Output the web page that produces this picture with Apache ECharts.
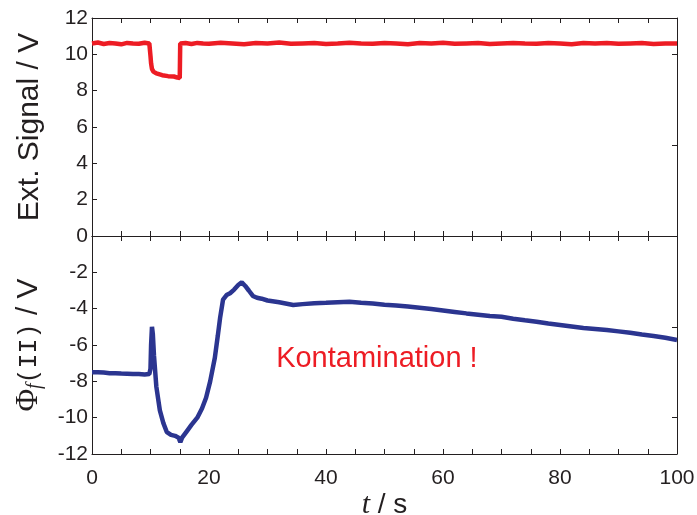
<!DOCTYPE html>
<html>
<head>
<meta charset="utf-8">
<script src="https://cdn.jsdelivr.net/npm/echarts@6/dist/echarts.min.js"></script>
<style>
html,body{margin:0;padding:0;background:#fff;}
#c{width:697px;height:515px;}
</style>
</head>
<body>
<div id="c"></div>
<script>
// ---- data ----
const xTicksLabeled = [0, 20, 40, 60, 80, 100];

// top panel: external signal (V) vs t (s)
const tSignal = [0,1,2,3,4,5,6,7,8,9,9.8,10.0,10.1,10.25,10.5,11,12,13,14,14.6,14.9,15.0,15.08,16,17,18,19,20,22,24,26,28,30,32,34,36,38,40,42,44,46,48,50,52,54,56,58,60,62,64,66,68,70,72,74,76,78,80,82,84,86,88,90,92,94,96,98,100];
const vSignal = [10.6,10.65,10.57,10.62,10.6,10.55,10.63,10.6,10.58,10.64,10.6,9.9,9.5,9.2,9.05,8.95,8.85,8.8,8.78,8.72,8.62,8.7,10.6,10.62,10.57,10.63,10.6,10.58,10.64,10.6,10.56,10.62,10.6,10.65,10.58,10.6,10.62,10.57,10.6,10.64,10.6,10.58,10.62,10.6,10.56,10.62,10.6,10.64,10.58,10.6,10.62,10.57,10.6,10.63,10.6,10.58,10.62,10.6,10.56,10.62,10.6,10.63,10.58,10.6,10.62,10.57,10.6,10.6];

// bottom panel: Phi_f(II) (V) vs t (s)
const tPhi = [0,1,2,3,4,5,6,7,8,9,9.8,10.0,10.1,10.25,10.4,10.6,11.0,11.6,12.2,12.8,13.5,14.2,14.8,15.1,15.4,16.2,17,18,18.8,19.5,20.2,21.0,21.5,21.9,22.4,23,23.6,24.3,25,25.6,26.2,26.8,27.5,28.2,29,30,32,34.4,36,38,40,42,44,46,48,50,52,54,56,58,60,62,64,66,68,70,72,74,76,78,80,82,84,86,88,90,92,94,96,98,100];
const vPhi = [-7.5,-7.5,-7.52,-7.55,-7.55,-7.57,-7.58,-7.6,-7.6,-7.62,-7.6,-7.3,-6.0,-5.0,-5.4,-6.6,-8.3,-9.6,-10.3,-10.8,-10.95,-11.0,-11.1,-11.35,-11.1,-10.75,-10.4,-10.0,-9.5,-8.9,-8.0,-6.7,-5.5,-4.5,-3.5,-3.25,-3.15,-2.95,-2.7,-2.55,-2.75,-3.0,-3.3,-3.4,-3.45,-3.55,-3.65,-3.8,-3.75,-3.7,-3.68,-3.65,-3.62,-3.68,-3.72,-3.78,-3.82,-3.88,-3.95,-4.02,-4.1,-4.18,-4.26,-4.33,-4.4,-4.45,-4.55,-4.64,-4.72,-4.82,-4.9,-4.98,-5.06,-5.12,-5.18,-5.25,-5.33,-5.42,-5.5,-5.6,-5.72];

const note = { text: 'Kontamination !', t: 48.7, v: -6.75 };

// ---- styles ----
const INK = '#231f20';
const RED = '#ed1c24';
const BLUE = '#2b3590';
const SANS = 'Liberation Sans';

function zip(a, b) { return a.map((x, i) => [x, b[i]]); }

const axisLine = { show: true, onZero: false, lineStyle: { color: INK, width: 1 } };
const tickIn = { show: true, inside: true, length: 5, lineStyle: { color: INK, width: 1 } };

function xAx(grid, pos, labels) {
  return {
    type: 'value', gridIndex: grid, position: pos, min: 0, max: 100, interval: 5,
    axisLine: axisLine, axisTick: tickIn, splitLine: { show: false },
    axisLabel: labels ? {
      show: true, fontFamily: SANS, fontSize: 21, color: INK, margin: 14,
      formatter: v => (xTicksLabeled.indexOf(v) >= 0 ? String(v) : '')
    } : { show: false }
  };
}

const chart = echarts.init(document.getElementById('c'), null, { renderer: 'canvas' });
chart.setOption({
  animation: false,
  backgroundColor: '#fff',
  grid: [
    { left: 92, top: 18, width: 585, height: 218, containLabel: false, outerBoundsMode: 'none' },
    { left: 92, top: 236, width: 585, height: 218, containLabel: false, outerBoundsMode: 'none' }
  ],
  xAxis: [
    xAx(0, 'bottom', false),
    xAx(0, 'top', false),
    Object.assign(xAx(1, 'bottom', true), {
      name: '{t|t}{s| / s}', nameLocation: 'middle', nameGap: 32,
      nameTextStyle: { rich: {
        t: { fontFamily: 'Liberation Serif', fontStyle: 'italic', fontSize: 30, color: INK },
        s: { fontFamily: SANS, fontSize: 28, color: INK }
      } }
    }),
    xAx(1, 'top', false)
  ],
  yAxis: [
    {
      type: 'value', gridIndex: 0, position: 'left', min: 0, max: 12, interval: 2,
      axisLine: axisLine, axisTick: tickIn, splitLine: { show: false },
      axisLabel: { fontFamily: SANS, fontSize: 21, color: INK, margin: 4 },
      name: 'Ext. Signal / V', nameLocation: 'middle', nameGap: 47,
      nameTextStyle: { fontFamily: SANS, fontSize: 30, color: INK }
    },
    {
      type: 'value', gridIndex: 0, position: 'right', min: 0, max: 12,
      axisLine: axisLine, axisTick: Object.assign({}, tickIn, { customValues: [5, 10] }),
      axisLabel: { show: false }, splitLine: { show: false }
    },
    {
      type: 'value', gridIndex: 1, position: 'left', min: -12, max: 0, interval: 2,
      axisLine: axisLine, axisTick: tickIn, splitLine: { show: false },
      axisLabel: { fontFamily: SANS, fontSize: 21, color: INK, margin: 4, showMaxLabel: false,
        formatter: v => (v === 0 ? '' : String(v)) },
      name: '{phi|Φ}{sub|f}{tt|(II)}{n| / V}', nameLocation: 'middle', nameGap: 47,
      nameTextStyle: { rich: {
        phi: { fontFamily: 'Liberation Serif', fontSize: 31, color: INK },
        sub: { fontFamily: 'Liberation Serif', fontStyle: 'italic', fontSize: 20, color: INK, padding: [12, 0, 0, 0] },
        tt: { fontFamily: 'Liberation Mono', fontSize: 25, color: INK },
        n: { fontFamily: SANS, fontSize: 30, color: INK }
      } }
    },
    {
      type: 'value', gridIndex: 1, position: 'right', min: -12, max: 0,
      axisLine: axisLine, axisTick: Object.assign({}, tickIn, { customValues: [-10, -5] }),
      axisLabel: { show: false }, splitLine: { show: false }
    }
  ],
  series: [
    {
      type: 'line', xAxisIndex: 0, yAxisIndex: 0, data: zip(tSignal, vSignal),
      showSymbol: false, symbol: 'none', lineStyle: { color: RED, width: 4.5 }, silent: true
    },
    {
      type: 'line', xAxisIndex: 2, yAxisIndex: 2, data: zip(tPhi, vPhi),
      showSymbol: false, symbol: 'none', lineStyle: { color: BLUE, width: 4.5 }, silent: true
    },
    {
      type: 'scatter', xAxisIndex: 2, yAxisIndex: 2, data: [[note.t, note.v]],
      symbolSize: 0, silent: true, itemStyle: { opacity: 1, color: RED },
      label: { show: true, position: 'inside', formatter: note.text, opacity: 1,
        fontFamily: SANS, fontSize: 29, color: RED, textBorderWidth: 0 }
    }
  ]
});
</script>
</body>
</html>
